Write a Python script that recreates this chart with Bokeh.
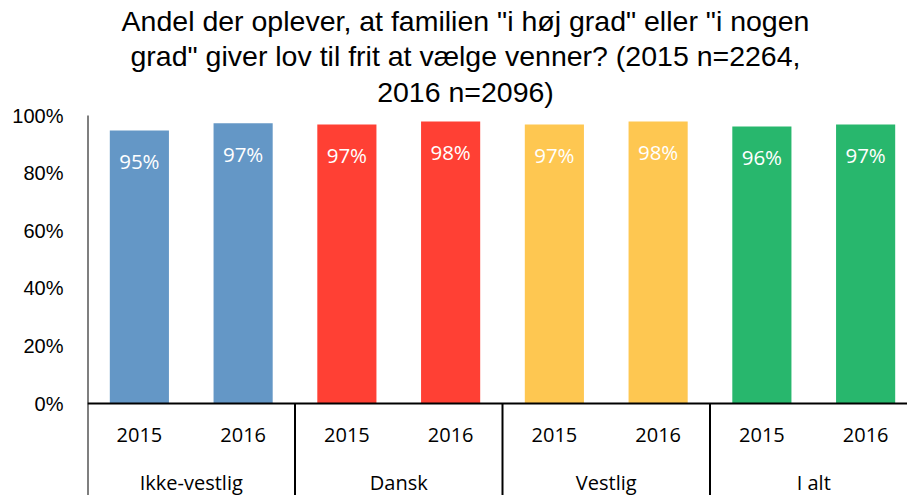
from bokeh.plotting import figure
from bokeh.models import Range1d, FixedTicker, ColumnDataSource
from bokeh.core.properties import value
from bokeh.embed import file_html
from bokeh.resources import INLINE

# ---- data ----
title_lines = [
    'Andel der oplever, at familien "i høj grad" eller "i nogen',
    'grad" giver lov til frit at vælge venner? (2015 n=2264,',
    '2016 n=2096)',
]
groups = ["Ikke-vestlig", "Dansk", "Vestlig", "I alt"]
years = ["2015", "2016"]
v2015 = [94.8, 96.9, 96.9, 96.2]
v2016 = [97.3, 97.9, 97.9, 96.9]
group_colors = ["#6497C6", "#FF4034", "#FEC751", "#28B76D"]
y_ticks = [0, 20, 40, 60, 80, 100]

# ---- layout constants ----
W, H = 907, 495
K = 2.88                       # px per percent
Y_END = 100 + 115 / K          # frame reaches top of canvas
Y_START = -(H - 403) / K       # frame reaches bottom of canvas
n_y = len(years)
SLOT = 103.75
X_END = (W - 87) / SLOT

series = [v2015, v2016]
xs, tops, cols, labels = [], [], [], []
for gi, g in enumerate(groups):
    for yi, yr in enumerate(years):
        v = series[yi][gi]
        xs.append(gi * n_y + yi + 0.5)
        tops.append(v)
        cols.append(group_colors[gi])
        labels.append(f"{round(v):d}%")

src = ColumnDataSource(dict(x=xs, top=tops, color=cols, label=labels,
                            label_y=[t - 10.6 for t in tops],
                            year=[yr for g in groups for yr in years]))

p = figure(width=W, height=H,
           x_range=Range1d(0, X_END), y_range=Range1d(Y_START, Y_END),
           output_backend="svg", toolbar_location=None,
           x_axis_location=None,
           min_border_left=87, min_border_right=0,
           min_border_top=0, min_border_bottom=0)
p.outline_line_color = None
p.grid.visible = False
p.background_fill_color = "white"
p.border_fill_color = "white"

yax = p.yaxis[0]
yax.ticker = FixedTicker(ticks=y_ticks)
yax.major_label_overrides = {t: f"{t}%" for t in y_ticks}
yax.axis_line_color = None
yax.major_tick_line_color = None
yax.minor_tick_line_color = None
yax.major_tick_out = 0
yax.major_tick_in = 0
yax.major_label_standoff = 24
yax.major_label_text_font = "Liberation Sans"
yax.major_label_text_font_size = "20px"
yax.major_label_text_color = "black"

# bars
p.vbar(x="x", top="top", bottom=0, width=0.57, color="color", line_color=None, source=src)

# data labels
p.text(x="x", y="label_y", text="label", source=src, text_align="center",
       text_baseline="middle", text_color="white",
       text_font=value("Open Sans"), text_font_size="20.5px")

# axis lines and group separators
line_col = "#000000"
p.segment(x0=[0], y0=[Y_START], x1=[0], y1=[100], line_color=line_col, line_width=2)
p.segment(x0=[0], y0=[0], x1=[X_END], y1=[0], line_color=line_col, line_width=2)
sep_x = [gi * n_y for gi in range(1, len(groups))]
p.segment(x0=sep_x, y0=[0] * len(sep_x), x1=sep_x, y1=[Y_START] * len(sep_x),
          line_color=line_col, line_width=2)

# category labels
p.text(x="x", y=-11.1, text="year", source=src, text_align="center",
       text_baseline="middle", text_color="black",
       text_font=value("Open Sans"), text_font_size="20px")
p.text(x=[gi * n_y + n_y / 2 for gi in range(len(groups))], y=[-27.4] * len(groups),
       text=groups, text_align="center", text_baseline="middle", text_color="black",
       text_font=value("Open Sans"), text_font_size="20px")

# title (one text per line)
title_px = [20.5, 55.8, 91.0]
p.text(x=[(465 - 87) / SLOT] * len(title_lines),
       y=[100 + (115 - py) / K for py in title_px],
       text=title_lines,
       text_align="center", text_baseline="middle", text_color="black",
       text_font=value("Liberation Sans"), text_font_size="28.5px")

open("out.html", "w").write(file_html(p, INLINE))
